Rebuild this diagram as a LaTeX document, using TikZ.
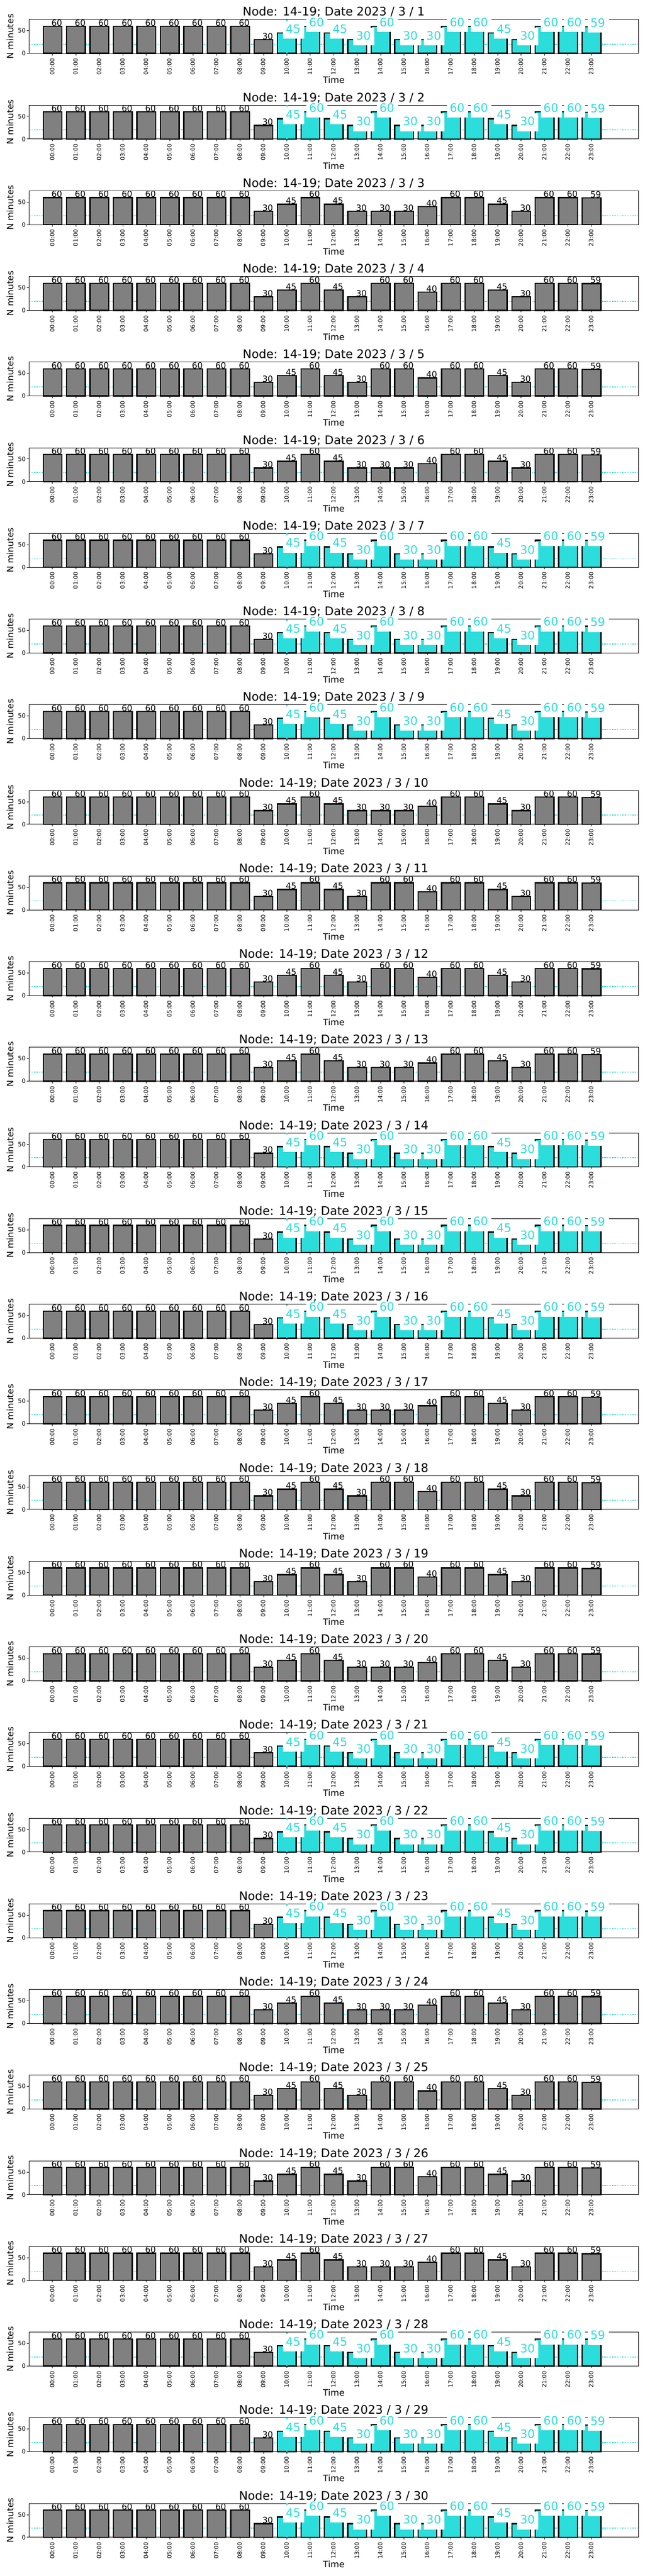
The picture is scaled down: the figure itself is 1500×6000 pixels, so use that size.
\documentclass[tikz,border=0pt]{standalone}
\usepackage{fontspec}
\setmainfont{DejaVu Sans}
\definecolor{hl}{RGB}{43,221,219}
\definecolor{bargrey}{RGB}{128,128,128}
\newcommand\fsz[1]{\fontsize{#1}{#1}\selectfont}
\tikzset{
  bargray/.style={fill=bargrey, draw=black, line width=2.8pt},
  barhl/.style={fill=hl, draw=black, line width=2.8pt},
  spine/.style={draw=black, line width=1.1pt},
  tickline/.style={draw=black, line width=1.1pt},
  thr/.style={draw=hl, line width=2pt, dash pattern=on 1.9pt off 1.9pt},
  vmark/.style={draw=hl, line width=3.5pt},
  blab/.style={anchor=base west, inner sep=0pt, font=\fsz{19.5}},
  clab/.style={anchor=base west, inner sep=0pt, font=\fsz{27}, text=hl},
  cbox/.style={fill=white},
  xtl/.style={rotate=90, anchor=base east, inner sep=0pt, font=\fsz{13.5}},
  ytl/.style={anchor=east, inner sep=0pt, font=\fsz{13.9}},
  ttl/.style={anchor=base, inner sep=0pt, font=\fsz{27.5}},
  axl/.style={anchor=base, inner sep=0pt, font=\fsz{20.5}},
}
\def\valsE{0/60,1/60,2/60,3/60,4/60,5/60,6/60,7/60,8/60,9/30}
\def\valsA{10/45,11/60,12/45,13/30,14/60,15/30,16/30,17/60,18/60,19/45,20/30,21/60,22/60,23/59}
\def\valsB{10/45,11/60,12/45,13/30,14/30,15/30,16/40,17/60,18/60,19/45,20/30,21/60,22/60,23/59}
\def\valsC{10/45,11/60,12/45,13/30,14/60,15/60,16/40,17/60,18/60,19/45,20/30,21/60,22/60,23/59}
\begin{document}
\begin{tikzpicture}[x=1pt,y=-1pt]
\useasboundingbox (0,0) rectangle (1500,6000);
\fill[white] (0,0) rectangle (1500,6000);
\foreach \dd in {1,...,30}{
  \pgfmathsetmacro{\oy}{(\dd-1)*199.5}
  \pgfmathtruncatemacro{\wk}{mod(\dd-1,7)}
  \ifcase\wk \def\typ{0}\or \def\typ{0}\or \def\typ{1}\or \def\typ{2}\or \def\typ{2}\or \def\typ{1}\or \def\typ{0}\fi
  \ifcase\typ \let\vl\valsA \or \let\vl\valsB \or \let\vl\valsC \fi
  \begin{scope}[shift={(0,\oy)}]
    % threshold line
    \draw[thr] (67.8,103.2) -- (1485.8,103.2);
    % bars
    \foreach \h/\v in \valsE {
      \draw[bargray] (122.3+54.54*\h-21.8,124.3-1.0533*\v) rectangle (122.3+54.54*\h+21.8,124.3);
    }
    \foreach \h/\v in \vl {
      \ifnum\typ=0
        \draw[barhl] (122.3+54.54*\h-21.8,124.3-1.0533*\v) rectangle (122.3+54.54*\h+21.8,124.3);
      \else
        \draw[bargray] (122.3+54.54*\h-21.8,124.3-1.0533*\v) rectangle (122.3+54.54*\h+21.8,124.3);
      \fi
    }
    % frame and ticks
    \draw[spine] (67.8,45.3) rectangle (1485.8,124.3);
    \foreach \h in {0,...,23} {
      \draw[tickline] (122.3+54.54*\h,124.3) -- (122.3+54.54*\h,129.2);
      \node[xtl] (xt-\dd-\h) at (122.3+54.54*\h+4,135.5) {\ifnum\h<10 0\fi\h:00};
    }
    \draw[tickline] (67.8,124.3) -- (62.9,124.3);
    \draw[tickline] (67.8,71.63) -- (62.9,71.63);
    \node[ytl] (y0-\dd) at (59.8,124.3) {0};
    \node[ytl] (y50-\dd) at (59.8,71.63) {50};
    \ifnum\typ=0
      \draw[vmark] (667.7,45.3) -- (667.7,124.3);
    \fi
    % value labels
    \foreach \h/\v in \valsE {
      \node[blab] (lab-\dd-\h) at (122.3+54.54*\h-2.8,124.3-1.0533*\v-0.8) {\v};
    }
    \foreach \h/\v in \vl {
      \ifnum\typ=0
        \fill[cbox] (122.3+54.54*\h-9,124.3-1.0533*\v-27.7) rectangle (122.3+54.54*\h+40,124.3-1.0533*\v+13.3);
        \node[clab] (lab-\dd-\h) at (122.3+54.54*\h-2.8,124.3-1.0533*\v+0.3) {\v};
      \else
        \node[blab] (lab-\dd-\h) at (122.3+54.54*\h-2.8,124.3-1.0533*\v-0.8) {\v};
      \fi
    }
    % titles and axis labels
    \node[ttl] (title-\dd) at (776.8,37) {Node: 14-19; Date 2023 / 3 / \dd};
    \node[axl] (xlab-\dd) at (776.8,194.3) {Time};
    \node[axl, rotate=90] (ylab-\dd) at (31,84.8) {N minutes};
  \end{scope}
}
\end{tikzpicture}
\end{document}
